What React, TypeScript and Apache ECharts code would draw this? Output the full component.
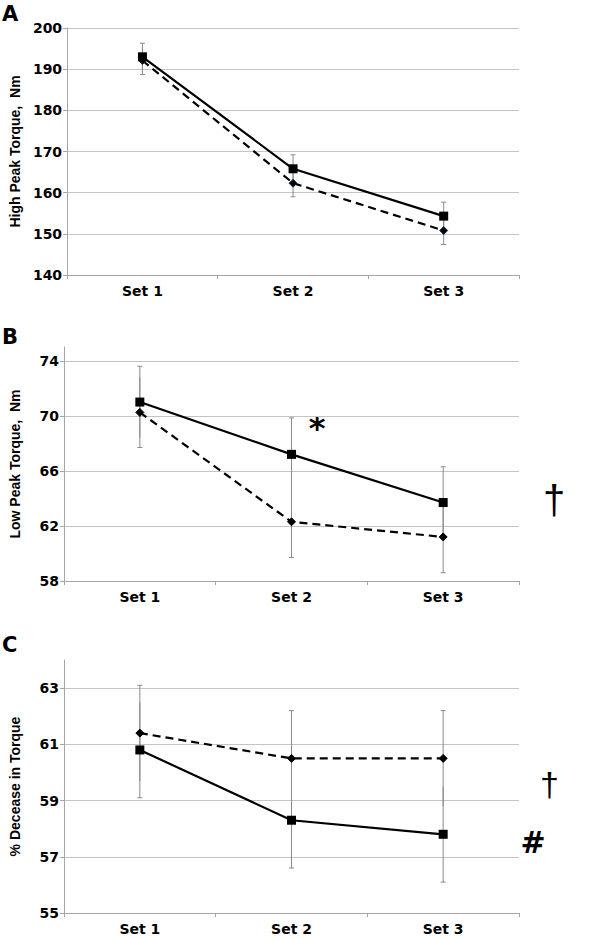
import React, { useEffect, useRef } from "react";
import * as echarts from "echarts";

const categories = ["Set 1", "Set 2", "Set 3"];

// Panel A: High Peak Torque (Nm)
const highSolid = [193.0, 165.8, 154.3];
const highDashed = [192.1, 162.3, 150.8];
const highSolidSD = [3.3, 3.4, 3.4];
const highDashedSD = [3.4, 3.3, 3.4];
const highTicks = [140, 150, 160, 170, 180, 190, 200];

// Panel B: Low Peak Torque (Nm)
const lowSolid = [71.0, 67.2, 63.7];
const lowDashed = [70.25, 62.3, 61.2];
const lowSolidSD = [2.6, 2.65, 2.6];
const lowDashedSD = [2.55, 2.6, 2.6];
const lowTicks = [58, 62, 66, 70, 74];

// Panel C: % Decrease in Torque
const decSolid = [60.8, 58.3, 57.8];
const decDashed = [61.4, 60.5, 60.5];
const decSolidSD = [1.7, 1.7, 1.7];
const decDashedSD = [1.7, 1.7, 1.7];
const decTicks = [55, 57, 59, 61, 63];

const panels = [
  { letter: "A", name: "High Peak Torque,  Nm", solid: highSolid, dashed: highDashed, solidSD: highSolidSD, dashedSD: highDashedSD, ticks: highTicks, min: 140, max: 200, top: 28, height: 247 },
  { letter: "B", name: "Low Peak Torque,  Nm", solid: lowSolid, dashed: lowDashed, solidSD: lowSolidSD, dashedSD: lowDashedSD, ticks: lowTicks, min: 58, max: 75, top: 347, height: 234 },
  { letter: "C", name: "% Decease in Torque", solid: decSolid, dashed: decDashed, solidSD: decSolidSD, dashedSD: decDashedSD, ticks: decTicks, min: 55, max: 64, top: 660, height: 253 },
];

const AXIS_COLOR = "#a6a6a6";
const GRID_COLOR = "#c4c4c4";
const ERR_COLOR = "#8a8a8a";
const TICK_FONT = { color: "#000", fontFamily: "DejaVu Sans", fontWeight: "bold" as const, fontSize: 14 };

function errorData(mean: number[], sd: number[], other: number[]) {
  return mean.map((m, i) => [i, m - sd[i], m + sd[i], m <= other[i] ? 1 : 0, m > other[i] ? 1 : 0]);
}

function renderErr(params: any, api: any) {
  const x = api.value(0);
  const pLo = api.coord([x, api.value(1)]);
  const pHi = api.coord([x, api.value(2)]);
  const style = { stroke: ERR_COLOR, lineWidth: 1 };
  const w = 2.5;
  const children: any[] = [
    { type: "line", shape: { x1: pLo[0], y1: pLo[1], x2: pHi[0], y2: pHi[1] }, style },
  ];
  if (api.value(3)) children.push({ type: "line", shape: { x1: pLo[0] - w, y1: pLo[1], x2: pLo[0] + w, y2: pLo[1] }, style });
  if (api.value(4)) children.push({ type: "line", shape: { x1: pHi[0] - w, y1: pHi[1], x2: pHi[0] + w, y2: pHi[1] }, style });
  return { type: "group", children };
}

export default function App() {
  const ref = useRef<HTMLDivElement>(null);

  useEffect(() => {
    document.body.style.margin = "0";
    if (!ref.current) return;
    const chart = echarts.init(ref.current, null, { renderer: "svg" });

    const grid: any[] = [];
    const xAxis: any[] = [];
    const yAxis: any[] = [];
    const series: any[] = [];

    panels.forEach((p, i) => {
      grid.push({ left: 59, top: p.top, width: 460, height: p.height });
      xAxis.push({
        type: "category",
        gridIndex: i,
        data: categories,
        boundaryGap: true,
        axisLine: { show: true, lineStyle: { color: AXIS_COLOR, width: 1 } },
        axisTick: { show: true, length: 4, lineStyle: { color: AXIS_COLOR } },
        axisLabel: { ...TICK_FONT, margin: 9 },
        splitLine: { show: false },
      });
      yAxis.push({
        type: "value",
        gridIndex: i,
        min: p.min,
        max: p.max,
        name: p.name,
        nameLocation: "middle",
        nameGap: 42,
        nameTextStyle: { fontFamily: "Liberation Sans", fontWeight: "bold", fontSize: 14, color: "#000" },
        axisLine: { show: true, lineStyle: { color: AXIS_COLOR, width: 1 } },
        axisTick: { show: true, length: 4, customValues: p.ticks, lineStyle: { color: AXIS_COLOR } },
        axisLabel: { ...TICK_FONT, margin: 5, customValues: p.ticks },
        splitLine: { show: true, lineStyle: { color: GRID_COLOR, width: 1 } },
      });
      series.push({
        type: "custom",
        xAxisIndex: i,
        yAxisIndex: i,
        renderItem: renderErr,
        encode: { x: 0, y: [1, 2] },
        data: errorData(p.dashed, p.dashedSD, p.solid),
        z: 1,
        clip: false,
      });
      series.push({
        type: "custom",
        xAxisIndex: i,
        yAxisIndex: i,
        renderItem: renderErr,
        encode: { x: 0, y: [1, 2] },
        data: errorData(p.solid, p.solidSD, p.dashed),
        z: 1,
        clip: false,
      });
      series.push({
        type: "line",
        xAxisIndex: i,
        yAxisIndex: i,
        data: p.dashed,
        symbol: "diamond",
        symbolSize: 8,
        showSymbol: true,
        itemStyle: { color: "#000", borderColor: i === 0 ? "#1d3557" : "#000", borderWidth: 1 },
        lineStyle: { color: "#000", width: 2.2, type: [8, 5] },
        z: 3,
      });
      series.push({
        type: "line",
        xAxisIndex: i,
        yAxisIndex: i,
        data: p.solid,
        symbol: "rect",
        symbolSize: 9,
        showSymbol: true,
        itemStyle: { color: "#000" },
        lineStyle: { color: "#000", width: 2.2, type: "solid" },
        z: 4,
      });
    });

    const letterStyle = { fontFamily: "DejaVu Sans", fontWeight: "bold", fontSize: 21, fill: "#000", textAlign: "left" };
    const graphic: any[] = [
      { type: "text", left: 2, top: 3, style: { ...letterStyle, text: "A" } },
      { type: "text", left: 2, top: 326, style: { ...letterStyle, text: "B" } },
      { type: "text", left: 2, top: 634, style: { ...letterStyle, text: "C" } },
      { type: "text", x: 317, y: 428, style: { text: "*", fontFamily: "DejaVu Sans", fontWeight: "bold", fontSize: 32, fill: "#000", align: "center", verticalAlign: "middle" } },
      { type: "text", x: 554, y: 500, style: { text: "\u2020", fontFamily: "Liberation Sans", fontSize: 40, fill: "#000", align: "center", verticalAlign: "middle" } },
      { type: "text", x: 549.5, y: 784, style: { text: "\u2020", fontFamily: "Liberation Sans", fontSize: 34, fill: "#000", align: "center", verticalAlign: "middle" } },
      { type: "text", x: 533, y: 842, style: { text: "#", fontFamily: "DejaVu Sans", fontWeight: "bold", fontSize: 30, fill: "#000", align: "center", verticalAlign: "middle" } },
    ];

    chart.setOption({
      animation: false,
      backgroundColor: "#fff",
      grid,
      xAxis,
      yAxis,
      series,
      graphic,
    });

    return () => chart.dispose();
  }, []);

  return <div ref={ref} style={{ width: 600, height: 939, position: "absolute", left: 0, top: 0 }} />;
}
